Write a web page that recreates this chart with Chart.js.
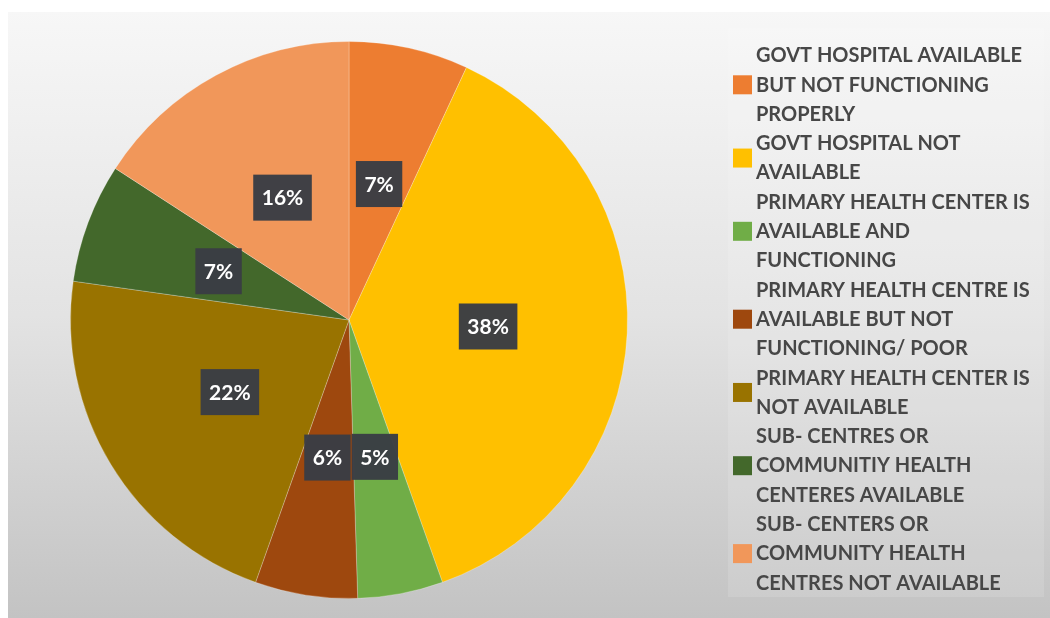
<!DOCTYPE html>
<html>
<head>
<meta charset="utf-8">
<script src="https://cdn.jsdelivr.net/npm/chart.js@4.4.1/dist/chart.umd.min.js"></script>
<style>
  html, body { margin: 0; padding: 0; background: #fff; }
  #wrap { width: 1050px; height: 618px; position: relative; }
</style>
</head>
<body>
<div id="wrap"><canvas id="healthPie"></canvas></div>
<script>
// legend entries, one array of lines per category
const categories = [
    ['GOVT HOSPITAL AVAILABLE', 'BUT NOT FUNCTIONING', 'PROPERLY'],
    ['GOVT HOSPITAL NOT', 'AVAILABLE'],
    ['PRIMARY HEALTH CENTER IS', 'AVAILABLE AND', 'FUNCTIONING'],
    ['PRIMARY HEALTH CENTRE IS', 'AVAILABLE BUT NOT', 'FUNCTIONING/ POOR'],
    ['PRIMARY HEALTH CENTER IS', 'NOT AVAILABLE'],
    ['SUB- CENTRES OR', 'COMMUNITIY HEALTH', 'CENTERES AVAILABLE'],
    ['SUB- CENTERS OR', 'COMMUNITY HEALTH', 'CENTRES NOT AVAILABLE']
];
const shares = [7, 38, 5, 6, 22, 7, 16];
const sliceColors = ['#ED7D31', '#FFC000', '#70AD47', '#9E480E', '#997300', '#43682B', '#F1975A'];

const FONT = 'Lato, "Liberation Sans", sans-serif';

// page background: white margin, grey gradient panel, lighter legend panel
const backdrop = {
    id: 'backdrop',
    beforeDraw(chart) {
        const ctx = chart.ctx;
        ctx.save();
        ctx.fillStyle = '#ffffff';
        ctx.fillRect(0, 0, chart.width, chart.height);
        const g = ctx.createLinearGradient(0, 12, 0, 618);
        g.addColorStop(0, '#f7f7f7');
        g.addColorStop(0.5, '#e3e3e3');
        g.addColorStop(1, '#c3c3c3');
        ctx.fillStyle = g;
        ctx.fillRect(8, 12, chart.width - 8, chart.height - 12);
        ctx.fillStyle = 'rgba(255,255,255,0.13)';
        ctx.fillRect(728, 28, 316, 569);
        ctx.restore();
    }
};

// dark boxed percentage labels at the middle of each slice
const sliceLabels = {
    id: 'sliceLabels',
    afterDatasetsDraw(chart) {
        const ctx = chart.ctx;
        const meta = chart.getDatasetMeta(0);
        ctx.save();
        ctx.font = 'bold 21px ' + FONT;
        ctx.textAlign = 'center';
        ctx.textBaseline = 'middle';
        meta.data.forEach(function(arc, i) {
            const p = arc.tooltipPosition();
            const txt = shares[i] + '%';
            const w = ctx.measureText(txt).width + 17;
            const h = 46;
            ctx.fillStyle = 'rgba(58,61,68,0.97)';
            ctx.fillRect(p.x - w / 2, p.y - h / 2, w, h);
            ctx.fillStyle = '#ffffff';
            ctx.fillText(txt, p.x, p.y + 1);
        });
        ctx.restore();
    }
};

// multi-line legend on the right, marker centred on each entry
const sideLegend = {
    id: 'sideLegend',
    afterDraw(chart) {
        const ctx = chart.ctx;
        const lineH = 29.3;
        const textX = 756;
        let y = 55.5;
        ctx.save();
        ctx.font = 'bold 21px ' + FONT;
        ctx.textBaseline = 'middle';
        const sx = 266 / ctx.measureText('GOVT HOSPITAL AVAILABLE').width;
        categories.forEach(function(lines, i) {
            const mid = y + (lines.length - 1) * lineH / 2;
            ctx.fillStyle = sliceColors[i];
            ctx.fillRect(733, mid - 9.5, 19, 19);
            ctx.fillStyle = '#474747';
            lines.forEach(function(line, k) {
                ctx.save();
                ctx.translate(textX, y + k * lineH);
                ctx.scale(sx, 1);
                ctx.fillText(line, 0, 0);
                ctx.restore();
            });
            y += lines.length * lineH;
        });
        ctx.restore();
    }
};

new Chart(document.getElementById('healthPie'), {
    type: 'pie',
    data: {
        labels: categories.map(function(l) { return l.join(' '); }),
        datasets: [{
            data: shares,
            backgroundColor: sliceColors,
            borderColor: 'rgba(255,255,255,0.25)',
            borderWidth: 1
        }]
    },
    options: {
        responsive: true,
        maintainAspectRatio: false,
        animation: false,
        layout: { padding: { left: 70, right: 422, top: 41, bottom: 19 } },
        plugins: {
            legend: { display: false },
            tooltip: { enabled: false }
        }
    },
    plugins: [backdrop, sliceLabels, sideLegend]
});
</script>
</body>
</html>
